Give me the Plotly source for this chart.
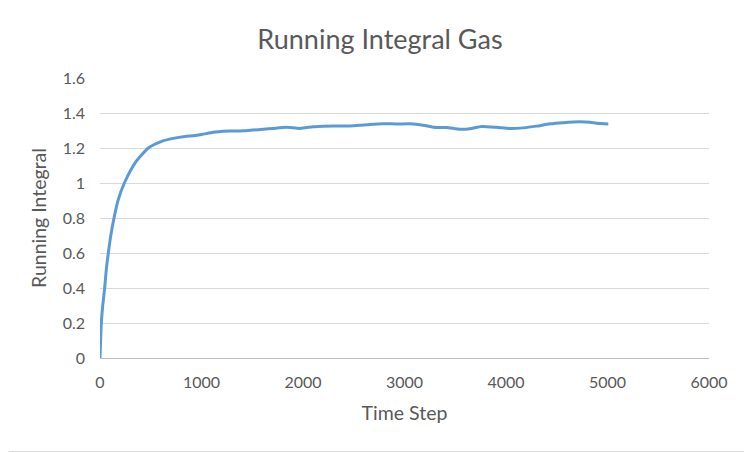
import plotly.graph_objects as go

time_step = [0, 13, 26, 46, 62, 82, 105, 138, 180, 240, 345, 476, 607, 722, 837, 920, 1000,
             1116, 1213, 1313, 1420, 1510, 1610, 1707, 1839, 1970, 2101, 2200, 2298, 2463,
             2560, 2660, 2791, 2922, 3054, 3185, 3284, 3415, 3547, 3645, 3760, 3907, 4039,
             4170, 4301, 4433, 4564, 4729, 4828, 4893, 5008]
running_integral = [0, 0.2, 0.295, 0.4, 0.505, 0.6, 0.695, 0.8, 0.905, 1.0, 1.114, 1.2, 1.238,
                    1.255, 1.266, 1.27, 1.277, 1.29, 1.296, 1.297, 1.299, 1.303, 1.307, 1.312,
                    1.318, 1.312, 1.322, 1.325, 1.326, 1.326, 1.33, 1.335, 1.339, 1.337, 1.338,
                    1.33, 1.319, 1.317, 1.307, 1.310, 1.323, 1.318, 1.311, 1.315, 1.325, 1.338,
                    1.345, 1.350, 1.347, 1.341, 1.337]

x_ticks = [0, 1000, 2000, 3000, 4000, 5000, 6000]
y_ticks = [0, 0.2, 0.4, 0.6, 0.8, 1, 1.2, 1.4, 1.6]
y_tick_text = ["0", "0.2", "0.4", "0.6", "0.8", "1", "1.2", "1.4", "1.6"]

FONT = "Lato, Open Sans, sans-serif"
GREY = "#595959"

fig = go.Figure()
fig.add_trace(go.Scatter(
    x=time_step, y=running_integral, mode="lines",
    line=dict(color="#5B9BD5", width=3, shape="spline", smoothing=0.6),
    showlegend=False, hoverinfo="x+y"))

# page body adds an 8px offset, so the figure is shifted up/left to compensate
L, R, T, B = 92, 43, 70, 94
W, H = 744, 444
pw, ph = W - L - R, H - T - B

fig.update_layout(
    width=W, height=H,
    margin=dict(l=L, r=R, t=T, b=B),
    paper_bgcolor="white", plot_bgcolor="white",
    font=dict(family=FONT, color=GREY),
    title=dict(text="Running Integral Gas", x=0.5, xanchor="center",
               y=1 - 32 / H, yanchor="middle",
               font=dict(family=FONT, size=27, color=GREY)),
    xaxis=dict(range=[0, 6000], tickvals=x_ticks, showgrid=False, zeroline=False,
               showline=True, linecolor="#bfbfbf", linewidth=1,
               ticks="", ticklabelstandoff=10,
               tickfont=dict(size=16, color=GREY),
               title=dict(text="Time Step", font=dict(size=19.5, color=GREY), standoff=16)),
    yaxis=dict(range=[0, 1.6], tickvals=y_ticks, ticktext=y_tick_text,
               showgrid=True, gridcolor="#d9d9d9", gridwidth=1, zeroline=False,
               showline=False, ticks="", ticklabelstandoff=14,
               tickfont=dict(size=16, color=GREY),
               title=dict(text="Running Integral", font=dict(size=19.5, color=GREY), standoff=10)),
)

# right and bottom edges of the chart's thin grey border
fig.add_shape(type="line", xref="paper", yref="paper",
              x0=1 + (R - 0.5) / pw, x1=1 + (R - 0.5) / pw,
              y0=-(B - 0.5) / ph, y1=1 + (T - 0.5) / ph,
              line=dict(color="#d9d9d9", width=1), layer="below")
fig.add_shape(type="line", xref="paper", yref="paper",
              x0=-(L - 0.5) / pw, x1=1 + (R - 0.5) / pw,
              y0=-(B - 0.5) / ph, y1=-(B - 0.5) / ph,
              line=dict(color="#d9d9d9", width=1), layer="below")

fig.write_html("out.html")
